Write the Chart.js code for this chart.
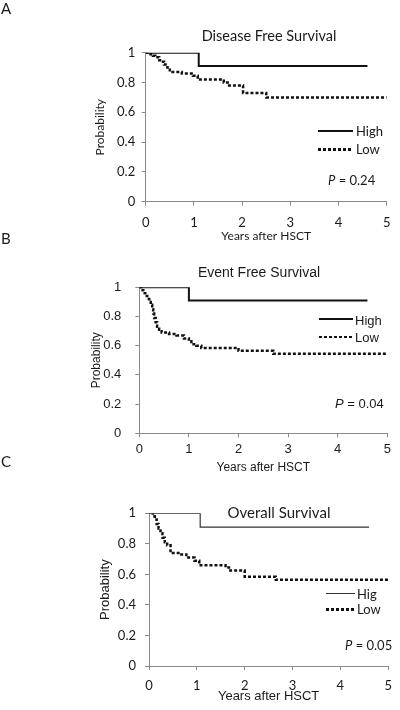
<!DOCTYPE html>
<html>
<head>
<meta charset="utf-8">
<script src="https://cdn.jsdelivr.net/npm/chart.js@4.4.1/dist/chart.umd.min.js"></script>
<style>
  body { margin: 0; background: #fff; width: 400px; height: 710px; position: relative; overflow: hidden; }
  canvas { position: absolute; left: 0; }
  .txt { position: absolute; white-space: nowrap; color: #1a1a1a; line-height: 1; transform: translateY(-50%); }
  .calibri { font-family: Lato, "Open Sans", sans-serif; }
  .arial { font-family: "Liberation Sans", Arial, sans-serif; }
  .ctr { transform: translate(-50%, -50%); }
  .solid { position: absolute; background: #111; }
  .dots { position: absolute; background: repeating-linear-gradient(to right, #111 0 3px, transparent 3px 5px); }
</style>
</head>
<body>
<canvas id="chartA" width="400" height="245" style="top:0"></canvas>
<canvas id="chartB" width="400" height="230" style="top:245px"></canvas>
<canvas id="chartC" width="400" height="235" style="top:475px"></canvas>

<!-- panel letters, titles, legends, p values -->
<div class="txt calibri" style="left:1px;top:8px;font-size:15px">A</div>
<div class="txt calibri ctr" style="left:269px;top:36px;font-size:14.5px">Disease Free Survival</div>
<div class="solid" style="left:318px;top:130px;width:35px;height:2px"></div>
<div class="dots" style="left:318px;top:148px;width:35px;height:2.5px"></div>
<div class="txt calibri" style="left:356px;top:131px;font-size:13px">High</div>
<div class="txt calibri" style="left:356px;top:149px;font-size:13px">Low</div>
<div class="txt calibri" style="left:328px;top:180px;font-size:13px"><i>P</i> = 0.24</div>

<div class="txt calibri" style="left:1px;top:238px;font-size:15px">B</div>
<div class="txt arial ctr" style="left:259px;top:272px;font-size:14px">Event Free Survival</div>
<div class="solid" style="left:319px;top:318px;width:34px;height:2px"></div>
<div class="dots" style="left:319px;top:335.5px;width:34px;height:2.5px"></div>
<div class="txt arial" style="left:355px;top:319.5px;font-size:13px">High</div>
<div class="txt arial" style="left:355px;top:337px;font-size:13px">Low</div>
<div class="txt arial" style="left:335px;top:403px;font-size:13px"><i>P</i> = 0.04</div>

<div class="txt calibri" style="left:1px;top:461px;font-size:15px">C</div>
<div class="txt calibri ctr" style="left:279px;top:512px;font-size:15px">Overall Survival</div>
<div class="solid" style="left:326px;top:593px;width:29px;height:1.2px;background:#333"></div>
<div class="dots" style="left:326px;top:608px;width:29px;height:2.5px"></div>
<div class="txt calibri" style="left:357px;top:593.5px;font-size:13px">Hig</div>
<div class="txt calibri" style="left:357px;top:609px;font-size:13px">Low</div>
<div class="txt calibri" style="left:345px;top:645px;font-size:13px"><i>P</i> = 0.05</div>

<script>
// tick values shared by all three panels
const yTicks = [0, 0.2, 0.4, 0.6, 0.8, 1];
const xTicks = [0, 1, 2, 3, 4, 5];

// A - disease free survival
const dfsHighT = [0, 1.1, 4.6];
const dfsHighS = [1, 0.91, 0.91];
const dfsLowT = [0, 0.1, 0.15, 0.2, 0.28, 0.33, 0.38, 0.45, 0.5, 0.75, 0.98, 1.08, 1.62, 1.7, 2.02, 2.5, 5.0];
const dfsLowS = [1, 0.99, 0.98, 0.97, 0.95, 0.94, 0.92, 0.9, 0.87, 0.86, 0.845, 0.82, 0.8, 0.78, 0.73, 0.7, 0.7];

// B - event free survival
const efsHighT = [0, 1.0, 4.6];
const efsHighS = [1, 0.91, 0.91];
const efsLowT = [0, 0.04, 0.08, 0.12, 0.16, 0.2, 0.23, 0.26, 0.28, 0.3, 0.33, 0.36, 0.4, 0.45, 0.6, 0.75, 0.9, 1.0, 1.05, 1.15, 1.25, 2.0, 2.7, 5.0];
const efsLowS = [1, 0.98, 0.96, 0.94, 0.92, 0.9, 0.88, 0.85, 0.82, 0.79, 0.76, 0.73, 0.71, 0.69, 0.68, 0.67, 0.65, 0.63, 0.61, 0.6, 0.585, 0.565, 0.545, 0.545];

// C - overall survival
const osHighT = [0, 1.07, 4.6];
const osHighS = [1, 0.91, 0.91];
const osLowT = [0.05, 0.08, 0.12, 0.16, 0.2, 0.24, 0.28, 0.33, 0.38, 0.45, 0.65, 0.78, 0.95, 1.05, 1.6, 1.7, 2.0, 2.65, 5.0];
const osLowS = [1, 0.98, 0.96, 0.93, 0.9, 0.87, 0.84, 0.81, 0.79, 0.74, 0.73, 0.71, 0.69, 0.66, 0.645, 0.625, 0.585, 0.565, 0.565];

const axisGray = '#8a8a8a';
const LATO = 'Lato, "Open Sans", sans-serif';
const ARIAL = '"Liberation Sans", Arial, sans-serif';

function toPoints(t, s) {
    return t.map((x, i) => ({ x: x, y: s[i] }));
}

// one Kaplan-Meier panel; p holds the layout of the plot area
function makeChart(id, high, low, p) {
    const ctx = document.getElementById(id).getContext('2d');
    return new Chart(ctx, {
        type: 'line',
        data: {
            datasets: [{
                label: 'High',
                data: high,
                borderColor: p.highColor,
                borderWidth: p.highWidth,
                stepped: true,
                pointRadius: 0,
                fill: false
            }, {
                label: 'Low',
                data: low,
                borderColor: '#111',
                borderWidth: 2.5,
                borderDash: [3, 2],
                borderCapStyle: 'butt',
                stepped: true,
                pointRadius: 0,
                fill: false
            }]
        },
        options: {
            responsive: false,
            animation: false,
            devicePixelRatio: 1,
            layout: { padding: p.pad },
            plugins: { legend: { display: false }, tooltip: { enabled: false } },
            scales: {
                x: {
                    type: 'linear',
                    min: xTicks[0],
                    max: xTicks[xTicks.length - 1],
                    afterBuildTicks: (s) => { s.ticks = xTicks.map(v => ({ value: v })); },
                    afterFit: (s) => { s.height = p.xHeight; },
                    border: { display: true, color: axisGray, width: 1 },
                    grid: { drawOnChartArea: false, drawTicks: true, tickLength: 4, color: axisGray },
                    ticks: { color: '#1a1a1a', padding: p.xTickPad, maxRotation: 0, font: { family: p.tickFont, size: 13 } },
                    title: { display: true, text: 'Years after HSCT', color: '#1a1a1a', padding: 0, font: { family: p.xTitleFont, size: p.xTitleSize } }
                },
                y: {
                    min: yTicks[0],
                    max: yTicks[yTicks.length - 1],
                    afterBuildTicks: (s) => { s.ticks = yTicks.map(v => ({ value: v })); },
                    afterFit: (s) => { s.width = p.yWidth; },
                    border: { display: true, color: axisGray, width: 1 },
                    grid: { drawOnChartArea: false, drawTicks: true, tickLength: 4, color: axisGray },
                    ticks: {
                        color: '#1a1a1a', padding: p.yTickPad, font: { family: p.tickFont, size: 13 },
                        callback: (v) => String(Math.round(v * 10) / 10)
                    },
                    title: { display: true, text: 'Probability', color: '#1a1a1a', padding: 0, font: { family: p.yTitleFont, size: p.yTitleSize } }
                }
            }
        }
    });
}

window.addEventListener('DOMContentLoaded', function() {
    makeChart('chartA', toPoints(dfsHighT, dfsHighS), toPoints(dfsLowT, dfsLowS), {
        pad: { left: 92.8, right: 4.7, top: 52.7, bottom: 1.3 },
        yWidth: 52.9, xHeight: 42, xTickPad: 9.5, yTickPad: 6.5,
        tickFont: LATO, xTitleFont: LATO, xTitleSize: 12, yTitleFont: LATO, yTitleSize: 12,
        highColor: '#111', highWidth: 2
    });
    makeChart('chartB', toPoints(efsHighT, efsHighS), toPoints(efsLowT, efsLowS), {
        pad: { left: 89.8, right: 12.7, top: 42.3, bottom: 0 },
        yWidth: 49.5, xHeight: 41.7, xTickPad: 4.5, yTickPad: 14,
        tickFont: ARIAL, xTitleFont: ARIAL, xTitleSize: 12, yTitleFont: ARIAL, yTitleSize: 12,
        highColor: '#111', highWidth: 2
    });
    makeChart('chartC', toPoints(osHighT, osHighS), toPoints(osLowT, osLowS), {
        pad: { left: 97.2, right: 10, top: 38.3, bottom: 6 },
        yWidth: 51.8, xHeight: 38, xTickPad: 8, yTickPad: 9,
        tickFont: LATO, xTitleFont: ARIAL, xTitleSize: 13, yTitleFont: ARIAL, yTitleSize: 13,
        highColor: '#333', highWidth: 1.2
    });
});
</script>
</body>
</html>
